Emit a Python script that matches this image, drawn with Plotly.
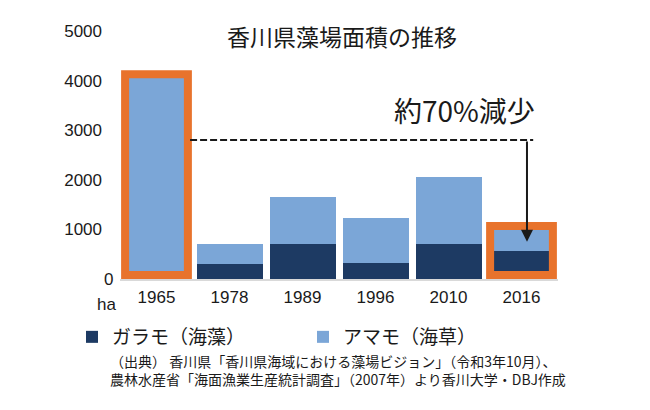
import plotly.graph_objects as go

# ---- data ----
years = ["1965", "1978", "1989", "1996", "2010", "2016"]
garamo = [0, 300, 700, 330, 700, 570]        # ガラモ（海藻）
amamo = [4100, 400, 950, 910, 1360, 470]     # アマモ（海草）
highlight_years = ["1965", "2016"]
y_tick_vals = [1000, 2000, 3000, 4000, 5000]
ref_level = 2800      # dashed reference line level
arrow_tip = 750       # arrow end value

title_text = "香川県藻場面積の推移"
callout_text = "約70%減少"
series_names = ["ガラモ（海藻）", "アマモ（海草）"]
unit_text = "ha"
source_lines = [
    "（出典） 香川県「香川県海域における藻場ビジョン」（令和3年10月）、",
    "農林水産省「海面漁業生産統計調査」（2007年）より香川大学・DBJ作成",
]

totals = [g + a for g, a in zip(garamo, amamo)]

# ---- geometry helpers (pixel -> paper) ----
W, H = 650, 410
L, R, T, B = 120, 558, 31, 279


def px(x):
    return (x - L) / (R - L)


def py(y):
    return (B - y) / (B - T)


DARK = "#1d3a63"
LIGHT = "#7ba6d7"
ORANGE = "#e8732c"
INK = "#1a1a1a"
JP = "Noto Sans CJK JP"
NUM = "Liberation Sans, Arial"

fig = go.Figure()
fig.add_trace(go.Bar(x=years, y=garamo, name=series_names[0],
                     marker=dict(color=DARK, line=dict(width=0))))
fig.add_trace(go.Bar(x=years, y=amamo, name=series_names[1],
                     marker=dict(color=LIGHT, line=dict(width=0))))

shapes = []
for yr in highlight_years:
    i = years.index(yr)
    shapes.append(dict(type="rect", xref="x", yref="y",
                       x0=i - 0.43, x1=i + 0.43, y0=80, y1=totals[i] + 30,
                       line=dict(color=ORANGE, width=8), fillcolor="rgba(0,0,0,0)",
                       layer="above"))
shapes.append(dict(type="line", xref="x", yref="y", x0=0.46, x1=5.16,
                   y0=ref_level, y1=ref_level,
                   line=dict(color=INK, width=2, dash="7px,3px")))

annotations = [
    dict(x=5.075, y=arrow_tip, ax=5.075, ay=ref_level, xref="x", yref="y",
         axref="x", ayref="y", text="", showarrow=True, arrowhead=2,
         arrowsize=1.2, arrowwidth=2, arrowcolor=INK, standoff=0),
    dict(x=px(464), y=py(110), xref="paper", yref="paper", text=callout_text,
         showarrow=False, font=dict(family=JP, size=28, color=INK),
         xanchor="center", yanchor="middle"),
    dict(x=px(108), y=0, xref="paper", yref="y", text="0", showarrow=False,
         font=dict(family=NUM, size=17, color=INK), xanchor="center", yanchor="middle"),
    dict(x=px(106), y=py(304), xref="paper", yref="paper", text=unit_text,
         showarrow=False, font=dict(family=NUM, size=17, color=INK),
         xanchor="center", yanchor="middle"),
    dict(x=px(108), y=py(370), xref="paper", yref="paper",
         text="<br>".join(source_lines), align="left",
         showarrow=False, font=dict(family=JP, size=14, color=INK),
         xanchor="left", yanchor="middle"),
]

fig.update_layout(
    width=W, height=H, autosize=False,
    margin=dict(l=L, r=W - R, t=T, b=H - B, pad=0),
    paper_bgcolor="white", plot_bgcolor="white",
    barmode="stack", bargap=0.096,
    font=dict(family=JP, color=INK),
    title=dict(text=title_text, x=342 / W, xanchor="center", xref="container",
               y=1 - 38 / H, yanchor="middle", yref="container",
               font=dict(family=JP, size=23, color=INK)),
    xaxis=dict(type="category", range=[-0.5, 5.5], showgrid=False, zeroline=False,
               showline=True, linecolor="#d9d9d9", linewidth=2, ticks="",
               tickfont=dict(family=NUM, size=17, color=INK), ticklabelstandoff=2),
    yaxis=dict(range=[0, 5000], tickvals=y_tick_vals, showgrid=False, zeroline=False,
               showline=False, ticks="", tickfont=dict(family=NUM, size=17, color=INK),
               ticklabelstandoff=17),
    legend=dict(orientation="h", x=px(72), xanchor="left", y=py(318), yanchor="top",
                traceorder="normal", font=dict(family=JP, size=19, color=INK),
                entrywidth=186, itemclick=False, bgcolor="rgba(0,0,0,0)"),
    shapes=shapes, annotations=annotations,
)

fig.write_html("out.html", config={"displayModeBar": False},
               post_script="document.body.style.margin='0';")
